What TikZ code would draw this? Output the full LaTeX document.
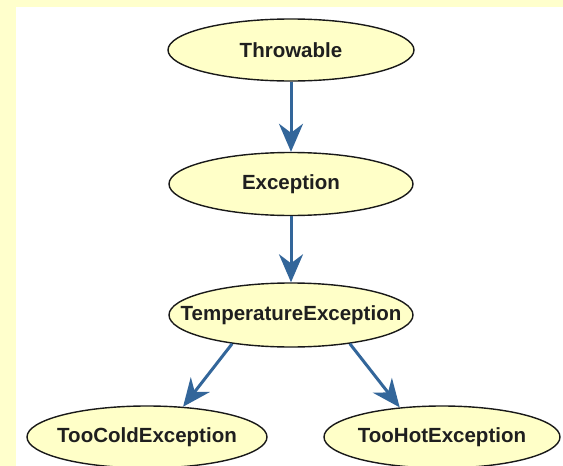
\documentclass[tikz,border=0pt]{standalone}
\usepackage{fontspec}
\setmainfont{Liberation Sans}
\usetikzlibrary{shapes.geometric,arrows.meta}
\definecolor{paneyellow}{HTML}{FFFFCC}
\definecolor{classfill}{HTML}{FFFFC8}
\definecolor{linkblue}{HTML}{33669A}
\tikzset{
  classnode/.style={ellipse, draw=black!90, line width=1.4pt, fill=classfill,
    inner xsep=-30pt, inner ysep=0pt,
    font=\bfseries\fontsize{20.5}{22}\selectfont, text=black!88},
  inherits/.style={draw=linkblue, line width=3pt,
    -{Stealth[length=28pt, width=24pt, inset=9pt, fill=linkblue]}}
}
\begin{document}
\begin{tikzpicture}[x=1pt, y=-1pt]
  % page frame
  \useasboundingbox (0,0) rectangle (563,466);
  \fill[paneyellow] (0,0) rectangle (563,466);
  \fill[white] (16,7) rectangle (563,466);

  % class hierarchy
  \node[classnode, minimum width=246pt, minimum height=62pt] (thr) at (291,50) {Throwable};
  \node[classnode, minimum width=244pt, minimum height=63pt] (exc) at (291,184) {Exception};
  \node[classnode, minimum width=244pt, minimum height=64pt] (tmp) at (291,315) {TemperatureException};
  \node[classnode, minimum width=240pt, minimum height=62pt] (cold) at (147,437) {TooColdException};
  \node[classnode, minimum width=236pt, minimum height=62pt] (hot) at (442,437) {TooHotException};

  % inheritance links
  \draw[inherits] (thr.south) -- (exc.north);
  \draw[inherits] (exc.south) -- (tmp.north);
  \draw[inherits] (tmp.206) -- (cold.40);
  \draw[inherits] (tmp.334) -- (hot.145);
\end{tikzpicture}
\end{document}
